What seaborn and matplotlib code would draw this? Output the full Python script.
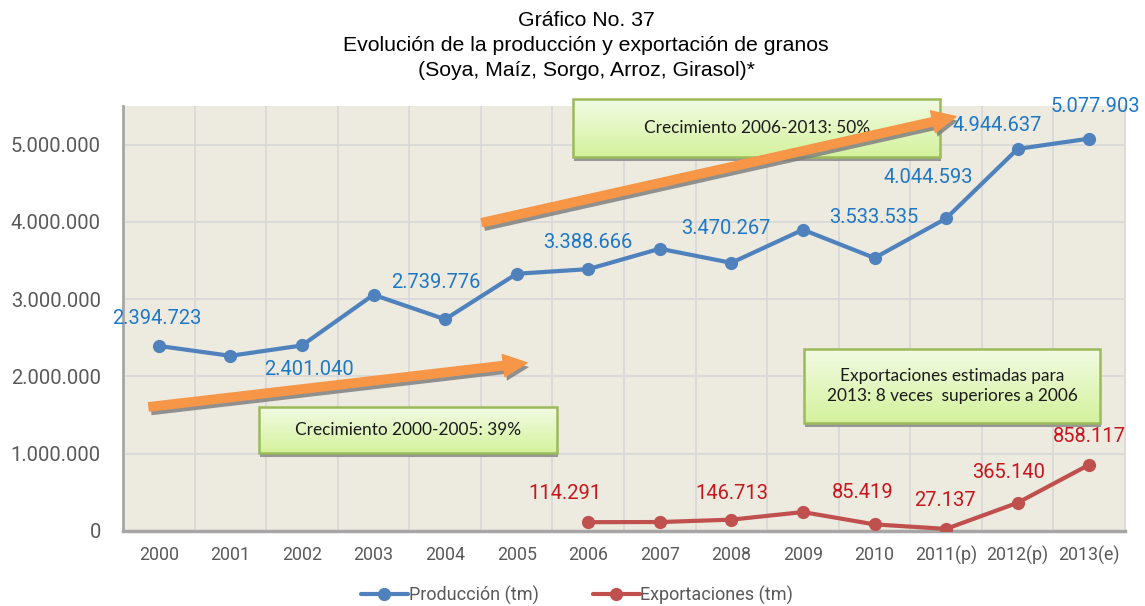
import numpy as np
import pandas as pd
import matplotlib
matplotlib.use("Agg")
import matplotlib.pyplot as plt
import matplotlib.transforms as mtransforms
from matplotlib.patches import Rectangle, FancyArrowPatch, ArrowStyle
from matplotlib.colors import LinearSegmentedColormap
from matplotlib.ticker import FuncFormatter
import matplotlib.patheffects as pe
import seaborn as sns

# ---- data -------------------------------------------------------------
years = ["2000", "2001", "2002", "2003", "2004", "2005", "2006", "2007",
         "2008", "2009", "2010", "2011(p)", "2012(p)", "2013(e)"]
production = [2394723, 2267000, 2401040, 3057000, 2739776, 3329000, 3388666,
              3653000, 3470267, 3899000, 3533535, 4044593, 4944637, 5077903]
export_years = years[6:]
exports = [114291, 116000, 146713, 245000, 85419, 27137, 365140, 858117]

# which points carry a value label
production_labelled = [True, False, True, False, True, False, True,
                       False, True, False, True, True, True, True]
exports_labelled = [True, False, True, False, True, True, True, True]

y_ticks = [0, 1000000, 2000000, 3000000, 4000000, 5000000]

title_lines = ["Gráfico No. 37",
               "Evolución de la producción y exportación de granos",
               "(Soya, Maíz, Sorgo, Arroz, Girasol)*"]
note_prod_early = "Crecimiento 2000-2005: 39%"
note_prod_late = "Crecimiento 2006-2013: 50%"
note_exports = "Exportaciones estimadas para\n2013: 8 veces  superiores a 2006"

# ---- styling ----------------------------------------------------------
sns.set_style("white")
plt.rcParams["font.family"] = ["Roboto", "DejaVu Sans"]

BLUE_LINE = "#4F81BD"
RED_LINE = "#C0504D"
BLUE_TEXT = "#1F78C6"
RED_TEXT = "#C8161D"
AXIS_TEXT = "#595959"
GRID = "#D9D9D9"
PLOT_BG = "#EDEAE0"
ORANGE = "#F79646"

W, H = 1145, 606
fig = plt.figure(figsize=(W / 100, H / 100), dpi=100)
ax = fig.add_axes([123 / W, 1 - 531 / H, (1125 - 123) / W, (531 - 106) / H])
ax.set_facecolor(PLOT_BG)

df_prod = pd.DataFrame({"pos": np.arange(len(years)), "valor": production})
df_exp = pd.DataFrame({"pos": np.arange(len(years))[6:], "valor": exports})

sns.lineplot(data=df_prod, x="pos", y="valor", ax=ax, color=BLUE_LINE,
             linewidth=3.0, marker="o", markersize=9.5, markeredgewidth=0,
             label="Producción (tm)", zorder=4)
sns.lineplot(data=df_exp, x="pos", y="valor", ax=ax, color=RED_LINE,
             linewidth=3.0, marker="o", markersize=9.5, markeredgewidth=0,
             label="Exportaciones (tm)", zorder=4)

ax.set_xlim(-0.5, len(years) - 0.5)
ax.set_ylim(0, 5500000)
ax.set_xlabel("")
ax.set_ylabel("")

# axes, ticks and grid
ax.set_xticks(np.arange(len(years)))
ax.set_xticklabels(years)
ax.set_xticks(np.arange(-0.5, len(years), 1), minor=True)
ax.set_yticks(y_ticks)
ax.yaxis.set_major_formatter(FuncFormatter(lambda v, _: f"{int(v):,}".replace(",", ".")))
ax.grid(False)
ax.grid(which="minor", axis="x", color=GRID, linewidth=1.3, zorder=0)
ax.grid(which="major", axis="y", color=GRID, linewidth=1.3, zorder=0)
ax.set_axisbelow(True)
ax.tick_params(which="both", length=0)
ax.tick_params(axis="y", labelsize=14.5, labelcolor=AXIS_TEXT, pad=16)
ax.tick_params(axis="x", labelsize=12.8, labelcolor=AXIS_TEXT, pad=11)
ax.spines["top"].set_visible(False)
ax.spines["right"].set_color(GRID)
ax.spines["right"].set_linewidth(1.3)
ax.spines["left"].set_color("#A6A6A6")
ax.spines["left"].set_linewidth(2)
ax.spines["bottom"].set_color("#A6A6A6")
ax.spines["bottom"].set_linewidth(2.5)


def fmt(v):
    return f"{v:,}".replace(",", ".")


# value labels (offsets in pixels from each marker)
prod_offsets = [(-2, 27), None, (7, -24), None, (-9, 37), None, (0, 27),
                None, (-6, 34), None, (-1, 40), (-18, 41), (-20, 23), (6, 32)]
for i, (v, show, off) in enumerate(zip(production, production_labelled, prod_offsets)):
    if show:
        ax.annotate(fmt(v), (i, v), xytext=off, textcoords="offset pixels",
                    ha="center", va="center", fontsize=14.5, color=BLUE_TEXT,
                    zorder=6, annotation_clip=False)

exp_offsets = [(-23, 29), None, (0, 26), None, (-12, 32), (-1, 28), (-9, 30), (0, 28)]
for j, (v, show, off) in enumerate(zip(exports, exports_labelled, exp_offsets)):
    if show:
        ax.annotate(fmt(v), (6 + j, v), xytext=off, textcoords="offset pixels",
                    ha="center", va="center", fontsize=14.5, color=RED_TEXT,
                    zorder=6, annotation_clip=False)

# ---- callout boxes with a soft green gradient -------------------------
green_cmap = LinearSegmentedColormap.from_list("callout", ["#F2FBE4", "#D4F29C"])
gradient = np.linspace(0, 1, 256).reshape(-1, 1)


def callout(x0, x1, y0, y1, text, fontsize=12.4):
    shadow_tf = ax.transData + mtransforms.ScaledTranslation(1 / 100, -4 / 100, fig.dpi_scale_trans)
    ax.add_patch(Rectangle((x0, y0), x1 - x0, y1 - y0, facecolor="#8E8E8E",
                           edgecolor="none", transform=shadow_tf, zorder=7,
                           clip_on=False, alpha=0.9))
    im = ax.imshow(gradient, extent=[x0, x1, y0, y1], origin="upper", aspect="auto",
                   cmap=green_cmap, interpolation="bilinear", zorder=8)
    im.set_clip_on(False)
    ax.add_patch(Rectangle((x0, y0), x1 - x0, y1 - y0, facecolor="none",
                           edgecolor="#9BBB59", linewidth=1.8, zorder=9, clip_on=False))
    ax.text((x0 + x1) / 2, (y0 + y1) / 2, text, ha="center", va="center",
            fontsize=fontsize, family=["Lato", "DejaVu Sans"], color="#1A1A1A",
            linespacing=1.35, zorder=10)


callout(5.79, 10.92, 4845000, 5594000, note_prod_late)
callout(1.40, 5.56, 1008000, 1602000, note_prod_early)
callout(9.02, 13.15, 1400000, 2357000, note_exports)

# ---- trend arrows -----------------------------------------------------
arrow_style = ArrowStyle.Simple(head_length=17, head_width=16, tail_width=6)


def trend_arrow(start, end):
    arr = FancyArrowPatch(start, end, arrowstyle=arrow_style, mutation_scale=1,
                          color=ORANGE, shrinkA=0, shrinkB=0, zorder=11,
                          clip_on=False,
                          path_effects=[pe.SimplePatchShadow(offset=(1.5, -3),
                                                             shadow_rgbFace="#808080",
                                                             alpha=0.85),
                                        pe.Normal()])
    ax.add_patch(arr)


trend_arrow((-0.137, 1606000), (5.145, 2176000))
trend_arrow((4.516, 3990000), (11.139, 5363000))

ax.set_xlim(-0.5, len(years) - 0.5)
ax.set_ylim(0, 5500000)

# ---- title ------------------------------------------------------------
for k, line in enumerate(title_lines):
    fig.text(586 / W, 1 - (21 + 24.5 * k) / H, line, ha="center", va="center",
             fontsize=15.3, family=["Liberation Sans", "DejaVu Sans"], color="#000000")

# ---- legend -----------------------------------------------------------
leg = ax.legend(loc="center", bbox_to_anchor=(577 / W, 1 - 595 / H),
                bbox_transform=fig.transFigure, ncol=2, frameon=False,
                fontsize=13, handlelength=2.6, handletextpad=0.05,
                columnspacing=3.0)
for t in leg.get_texts():
    t.set_color(AXIS_TEXT)

fig.savefig("out.png", dpi=100)
